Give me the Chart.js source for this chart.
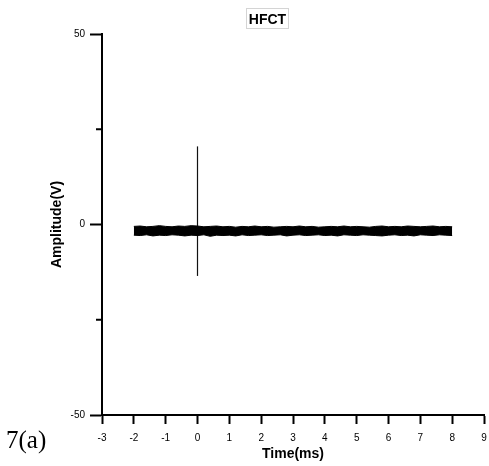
<!DOCTYPE html>
<html>
<head>
<meta charset="utf-8">
<script src="https://cdn.jsdelivr.net/npm/chart.js@4/dist/chart.umd.min.js"></script>
<style>
    body { margin: 0; background: #fff; }
    #wrap { position: relative; width: 489px; height: 466px; }
    #hfct {
        position: absolute; left: 246px; top: 8px; width: 41px; height: 19px;
        border: 1px solid #d4d4d4; font: bold 14px "Liberation Sans", Arial, sans-serif;
        text-align: center; line-height: 20px; color: #000;
    }
    #fig {
        position: absolute; left: 6px; top: 426px;
        font: 25px "Liberation Serif", "Times New Roman", serif; color: #000;
    }
</style>
</head>
<body>
<div id="wrap">
    <canvas id="hfctChart" width="489" height="466"></canvas>
    <div id="hfct">HFCT</div>
    <div id="fig">7(a)</div>
</div>
<script>
// time axis of the noise band (ms)
const timeMs = [-2, -1.8, -1.6, -1.4, -1.2, -1, -0.8, -0.6, -0.4, -0.2,
    0, 0.2, 0.4, 0.6, 0.8, 1, 1.2, 1.4, 1.6, 1.8,
    2, 2.2, 2.4, 2.6, 2.8, 3, 3.2, 3.4, 3.6, 3.8,
    4, 4.2, 4.4, 4.6, 4.8, 5, 5.2, 5.4, 5.6, 5.8,
    6, 6.2, 6.4, 6.6, 6.8, 7, 7.2, 7.4, 7.6, 7.8, 8]
// upper / lower edge of the noise (V)
const noiseTop = [-0.5, -0.4, -0.6, -0.5, -0.3, -0.5, -0.6, -0.4, -0.5, -0.3,
    -0.4, -0.6, -0.5, -0.4, -0.6, -0.5, -0.7, -0.5, -0.6, -0.4,
    -0.6, -0.5, -0.7, -0.6, -0.5, -0.6, -0.4, -0.6, -0.5, -0.7,
    -0.6, -0.5, -0.6, -0.4, -0.6, -0.5, -0.6, -0.7, -0.5, -0.4,
    -0.6, -0.5, -0.6, -0.4, -0.5, -0.6, -0.5, -0.4, -0.6, -0.5, -0.6]
const noiseBottom = [-2.8, -2.9, -2.7, -3.0, -2.8, -2.9, -2.7, -2.8, -3.0, -2.8,
    -2.9, -2.7, -3.1, -2.8, -2.9, -2.8, -3.0, -2.7, -2.9, -2.8,
    -2.7, -2.9, -2.8, -2.7, -3.0, -2.8, -2.7, -2.9, -2.8, -2.7,
    -2.9, -2.8, -3.0, -2.7, -2.8, -2.9, -2.7, -2.8, -2.9, -3.0,
    -2.8, -2.7, -2.9, -2.8, -3.0, -2.7, -2.8, -2.9, -2.7, -2.8, -2.9]
// the pulse at t = 0
const pulseTime = [0, 0]
const pulseAmp = [-13.5, 20.5]

const xTicks = [-3, -2, -1, 0, 1, 2, 3, 4, 5, 6, 7, 8, 9]
const yTicks = [-50, 0, 50]
const yMinorTicks = [-25, 25]

const fontFam = '"Liberation Sans", Arial, sans-serif'

const toPoints = (xs, ys) => xs.map((x, i) => ({ x: x, y: ys[i] }))

// short unlabeled ticks at +-25
const minorTicks = {
    id: 'minorTicks',
    afterDraw(chart) {
        const ctx = chart.ctx
        const y = chart.scales.y
        ctx.save()
        ctx.strokeStyle = '#000'
        ctx.lineWidth = 2
        yMinorTicks.forEach(v => {
            const py = y.getPixelForValue(v)
            ctx.beginPath()
            ctx.moveTo(chart.chartArea.left - 6, py)
            ctx.lineTo(chart.chartArea.left, py)
            ctx.stroke()
        })
        ctx.restore()
    }
}

const ctx = document.getElementById('hfctChart').getContext('2d')
new Chart(ctx, {
    type: 'scatter',
    data: {
        datasets: [
            {
                data: toPoints(timeMs, noiseTop),
                showLine: true, fill: '+1',
                borderColor: '#000', backgroundColor: '#000',
                borderWidth: 1, pointRadius: 0, tension: 0
            },
            {
                data: toPoints(timeMs, noiseBottom),
                showLine: true, fill: false,
                borderColor: '#000', borderWidth: 1, pointRadius: 0, tension: 0
            },
            {
                data: toPoints(pulseTime, pulseAmp),
                showLine: true, fill: false,
                borderColor: '#111', borderWidth: 1.2, pointRadius: 0
            }
        ]
    },
    options: {
        responsive: false,
        animation: false,
        layout: { padding: { top: 34, right: 5, left: 0, bottom: 0 } },
        plugins: {
            legend: { display: false },
            title: { display: false },
            tooltip: { enabled: false }
        },
        scales: {
            x: {
                type: 'linear', min: -3, max: 9,
                afterBuildTicks: s => { s.ticks = xTicks.map(v => ({ value: v })) },
                afterFit: s => { s.height = 51; s.paddingLeft = 0; s.paddingRight = 0 },
                ticks: { font: { size: 10, family: fontFam }, color: '#000', padding: 8, maxRotation: 0, autoSkip: false },
                grid: { drawOnChartArea: false, drawTicks: true, tickLength: 9, tickWidth: 2, tickColor: '#000' },
                border: { color: '#000', width: 2 },
                title: {
                    display: true, text: 'Time(ms)', color: '#000',
                    font: { size: 14, weight: 'bold', family: fontFam },
                    padding: { top: 0, bottom: 3 }
                }
            },
            y: {
                min: -50, max: 50,
                afterBuildTicks: s => { s.ticks = yTicks.map(v => ({ value: v })) },
                afterFit: s => { s.width = 102; s.paddingTop = 0; s.paddingBottom = 0 },
                ticks: { font: { size: 10, family: fontFam }, color: '#000', padding: 5 },
                grid: { drawOnChartArea: false, drawTicks: true, tickLength: 12, tickWidth: 2, tickColor: '#000' },
                border: { color: '#000', width: 2 },
                title: {
                    display: true, text: 'Amplitude(V)', color: '#000',
                    font: { size: 14, weight: 'bold', family: fontFam },
                    padding: { top: 49, bottom: 0 }
                }
            }
        }
    },
    plugins: [minorTicks]
})
</script>
</body>
</html>
